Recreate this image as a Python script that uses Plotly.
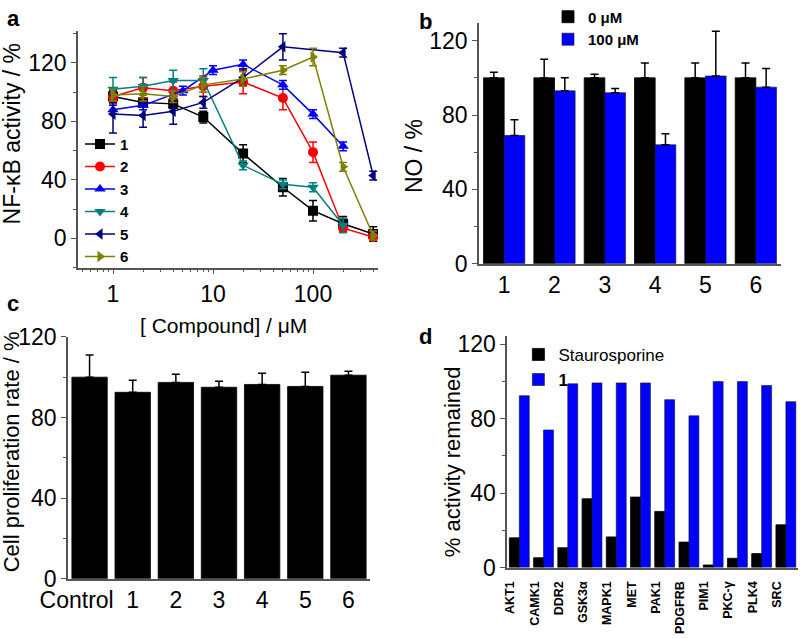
import plotly.graph_objects as go

# ---- panel a : NF-kB activity vs concentration ----
conc = [1, 2, 4, 8, 20, 50, 100, 200, 400]
conc3 = [1, 2, 5, 10, 20, 50, 100, 200]
conc4 = [1, 2, 4, 8, 20, 50, 100, 200]
conc5 = [1, 2, 4, 8, 20, 50, 200, 400]

nfkb1 = [97, 93, 92, 83, 58, 35, 19, 10, 3]
err1 = [4, 3, 3, 4, 6, 6, 7, 5, 5]
nfkb2 = [97, 103, 101, 104, 107, 96, 59, 7, 1]
err2 = [5, 7, 6, 7, 8, 8, 7, 3, 2]
nfkb3 = [88, 91, 101, 115, 119, 105, 85, 63]
err3 = [3, 3, 3, 3, 3, 3, 3, 3]
nfkb4 = [102, 104, 108, 108, 50, 37, 35, 9]
err4 = [8, 6, 7, 8, 3, 3, 3, 5]
nfkb5 = [85, 84, 87, 93, 110, 131, 127, 43]
err5 = [13, 8, 9, 4, 6, 9, 3, 3]
nfkb6 = [98, 99, 97, 105, 109, 115, 124, 49, 2]
err6 = [4, 5, 4, 5, 5, 3, 6, 3, 3]

# ---- panel b : NO ----
compounds = ["1", "2", "3", "4", "5", "6"]
no_0 = [100, 100, 100, 100, 100, 100]
no_0_err = [3, 10, 2, 8, 8, 8]
no_100 = [69, 93, 92, 64, 101, 95]
no_100_err = [8.5, 7, 2.3, 6, 24, 10]

# ---- panel c : cell proliferation ----
prolif_cats = ["Control", "1", "2", "3", "4", "5", "6"]
prolif = [100, 92.5, 97.4, 95, 96.4, 95.4, 101]
prolif_err = [11, 6, 4, 3, 5.6, 7, 2]

# ---- panel d : kinase panel ----
kinases = ["AKT1", "CAMK1", "DDR2", "GSK3α", "MAPK1", "MET", "PAK1",
           "PDGFRB", "PIM1", "PKC-γ", "PLK4", "SRC"]
stauro = [16, 5.3, 10.7, 37, 16.5, 37.9, 30.2, 13.7, 1.4, 5, 7.5, 23]
cmpd1 = [92.4, 74, 98.8, 99.3, 99.3, 99.3, 90.3, 81.6, 100, 100, 97.9, 89.2]

FONT = "Arial, Liberation Sans, sans-serif"
AX = "#555"

fig = go.Figure()

series = [
    ("1", conc, nfkb1, err1, "#000000", "square"),
    ("2", conc, nfkb2, err2, "#FF0000", "circle"),
    ("3", conc3, nfkb3, err3, "#0000FF", "triangle-up"),
    ("4", conc4, nfkb4, err4, "#008080", "triangle-down"),
    ("5", conc5, nfkb5, err5, "#000080", "triangle-left"),
    ("6", conc, nfkb6, err6, "#808000", "triangle-right"),
]
for name, xs, ys, es, col, sym in series:
    fig.add_trace(go.Scatter(
        x=xs, y=ys, name="<b>%s</b>" % name, mode="lines+markers",
        line=dict(color=col, width=1.5),
        marker=dict(symbol=sym, size=10, color=col),
        error_y=dict(type="data", array=es, color=col, thickness=1.5, width=4),
        xaxis="x", yaxis="y", legend="legend",
    ))

# panel b
fig.add_trace(go.Bar(
    x=compounds, y=no_0, name="<b>0 μM</b>", marker=dict(color="black", line=dict(color="black", width=0.8)),
    error_y=dict(type="data", array=no_0_err, arrayminus=[0] * 6, symmetric=False,
                 color="black", thickness=1.5, width=4),
    xaxis="x2", yaxis="y2", legend="legend2", offsetgroup="b0",
))
fig.add_trace(go.Bar(
    x=compounds, y=no_100, name="<b>100 μM</b>", marker=dict(color="#0000FF", line=dict(color="#111", width=0.6)),
    error_y=dict(type="data", array=no_100_err, arrayminus=[0] * 6, symmetric=False,
                 color="black", thickness=1.5, width=4),
    xaxis="x2", yaxis="y2", legend="legend2", offsetgroup="b1",
))

# panel c
fig.add_trace(go.Bar(
    x=prolif_cats, y=prolif, showlegend=False,
    marker=dict(color="black", line=dict(color="black", width=0.8)),
    error_y=dict(type="data", array=prolif_err, arrayminus=[0] * 7, symmetric=False,
                 color="black", thickness=1.5, width=4),
    xaxis="x3", yaxis="y3",
))

# panel d
fig.add_trace(go.Bar(
    x=kinases, y=stauro, name="Staurosporine",
    marker=dict(color="black", line=dict(color="black", width=0.8)),
    xaxis="x4", yaxis="y4", legend="legend3", offsetgroup="d0",
))
fig.add_trace(go.Bar(
    x=kinases, y=cmpd1, name="<b>1</b>",
    marker=dict(color="#0000FF", line=dict(color="#111", width=0.6)),
    xaxis="x4", yaxis="y4", legend="legend3", offsetgroup="d1",
))

tickfont = dict(family=FONT, size=23, color="black")
axcommon = dict(showline=True, linecolor=AX, linewidth=1.5, showgrid=False,
                zeroline=False, ticks="outside", ticklen=5, tickcolor=AX,
                tickwidth=1.2, tickfont=tickfont, mirror=False, automargin=False)
yminor = dict(ticks="outside", ticklen=3, tickcolor=AX, dtick=20, tick0=0)

fig.update_layout(
    width=800, height=638,
    margin=dict(l=0, r=0, t=0, b=0),
    paper_bgcolor="white", plot_bgcolor="white",
    font=dict(family=FONT, color="black"),
    barmode="group", bargap=0.18, bargroupgap=0,
    xaxis=dict(axcommon, type="log", domain=[0.0975, 0.4725], range=[-0.35, 2.65],
               tickvals=[1, 10, 100], ticktext=["1", "10", "100"], anchor="y",
               minor=dict(ticks="outside", ticklen=3, tickcolor=AX, dtick="D1")),
    yaxis=dict(axcommon, domain=[0.5878, 0.9639], range=[-20, 142], tickvals=[0, 40, 80, 120],
               anchor="x", minor=yminor),
    xaxis2=dict(axcommon, domain=[0.59875, 0.97625], range=[-0.5, 5.5], anchor="y2", ticks="",
                tickangle=0),
    yaxis2=dict(axcommon, domain=[0.594, 0.9765], range=[0, 129.6], tickvals=[0, 40, 80, 120],
                anchor="x2", minor=yminor),
    xaxis3=dict(axcommon, domain=[0.085, 0.4625], range=[-0.5, 6.5], anchor="y3", ticks="",
                tickangle=0, tickmode="array", tickvals=[-0.3, 1, 2, 3, 4, 5, 6],
                ticktext=prolif_cats),
    yaxis3=dict(axcommon, domain=[0.094, 0.478], range=[0, 120], tickvals=[0, 40, 80, 120],
                anchor="x3", minor=yminor),
    xaxis4=dict(axcommon, domain=[0.634, 0.9975], range=[-0.5, 11.5], anchor="y4", ticks="",
                tickangle=-90, ticklabelstandoff=7, ticklabelshift=-9,
                tickfont=dict(family=FONT, size=12.5, color="black", weight="bold")),
    yaxis4=dict(axcommon, domain=[0.1118, 0.4796], range=[0, 124.6], tickvals=[0, 40, 80, 120],
                anchor="x4", minor=yminor),
    legend=dict(x=0.1, y=0.81, xanchor="left", yanchor="top", bgcolor="rgba(0,0,0,0)",
                font=dict(family=FONT, size=15, color="black"), tracegroupgap=0),
    legend2=dict(x=0.685, y=1.012, xanchor="left", yanchor="top", bgcolor="rgba(0,0,0,0)",
                 font=dict(family=FONT, size=15, color="black")),
    legend3=dict(x=0.648, y=0.478, xanchor="left", yanchor="top", bgcolor="rgba(0,0,0,0)",
                 font=dict(family=FONT, size=17, color="black")),
)

# axis titles and panel letters as text
texts = [
    ("NF-κB activity / %", 12, 128, -90, 23, False),
    ("NO / %", 414, 150, -90, 23, False),
    ("Cell proliferation rate / %", 11, 450, -90, 22, False),
    ("% activity remained", 452, 459, -90, 22, False),
    ("[ Compound] / μM", 223, 322, 0, 21, False),
    ("a", 13, 11, 0, 22, True),
    ("b", 425, 14, 0, 22, True),
    ("c", 13, 299, 0, 22, True),
    ("d", 425, 333, 0, 22, True),
]
for t, px, py, ang, sz, bold in texts:
    fig.add_annotation(
        text="<b>%s</b>" % t if bold else t,
        x=px / 800, y=1 - py / 638, xref="paper", yref="paper",
        xanchor="center", yanchor="middle", showarrow=False, textangle=ang,
        font=dict(family=FONT, size=sz, color="black"),
    )

fig.write_html("out.html", config={"displayModeBar": False},
               post_script="document.body.style.margin='0';")
